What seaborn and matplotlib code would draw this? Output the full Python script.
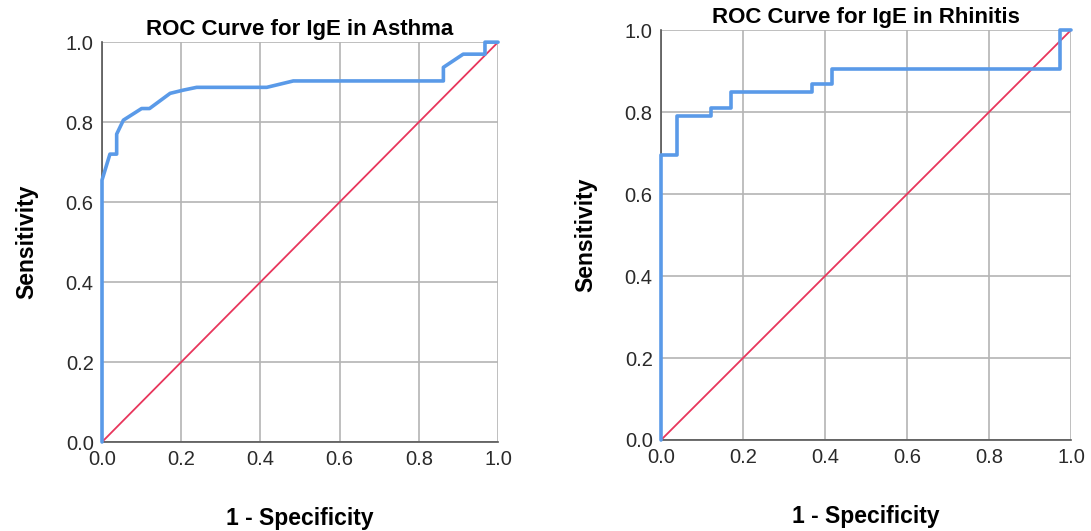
import pandas as pd
import matplotlib
matplotlib.use("Agg")
import matplotlib.pyplot as plt
import seaborn as sns

# ROC points (1 - specificity, sensitivity)
asthma_fpr = [0.0, 0.0, 0.02, 0.037, 0.037, 0.054, 0.10, 0.12, 0.172, 0.205, 0.239,
              0.416, 0.483, 0.862, 0.862, 0.912, 0.967, 0.967, 1.0]
asthma_tpr = [0.0, 0.655, 0.72, 0.72, 0.77, 0.805, 0.834, 0.834, 0.872, 0.88, 0.887,
              0.887, 0.903, 0.903, 0.937, 0.97, 0.97, 1.0, 1.0]

rhinitis_fpr = [0.0, 0.0, 0.038, 0.038, 0.121, 0.121, 0.17, 0.17, 0.367, 0.367,
                0.416, 0.416, 0.973, 0.973, 1.0]
rhinitis_tpr = [0.0, 0.695, 0.695, 0.791, 0.791, 0.809, 0.809, 0.85, 0.85, 0.868,
                0.868, 0.906, 0.906, 1.0, 1.0]

ref_line = [0.0, 1.0]
ticks = [0.0, 0.2, 0.4, 0.6, 0.8, 1.0]
tick_labels = ["0.0", "0.2", "0.4", "0.6", "0.8", "1.0"]

titles = ["ROC Curve for IgE in Asthma", "ROC Curve for IgE in Rhinitis"]

sns.set_theme(style="whitegrid")
plt.rcParams["font.family"] = ["Liberation Sans", "DejaVu Sans"]

BLUE = "#5a9ae8"
RED = "#e8365c"

fig = plt.figure(figsize=(10.91, 5.31), dpi=100)
ax1 = fig.add_axes([0.0935, 0.1676, 0.363, 0.753])
ax2 = fig.add_axes([0.6059, 0.1714, 0.3758, 0.772])

panels = [(ax1, asthma_fpr, asthma_tpr, titles[0]),
          (ax2, rhinitis_fpr, rhinitis_tpr, titles[1])]

for ax, fpr, tpr, title in panels:
    df = pd.DataFrame({"fpr": fpr, "tpr": tpr})
    ref = pd.DataFrame({"fpr": ref_line, "tpr": ref_line})
    sns.lineplot(data=ref, x="fpr", y="tpr", color=RED, linewidth=1.3,
                 sort=False, estimator=None, ax=ax, zorder=3)
    # estimator=None keeps the vertical steps (repeated x values)
    sns.lineplot(data=df, x="fpr", y="tpr", color=BLUE, linewidth=2.6,
                 sort=False, estimator=None, ax=ax, zorder=4, clip_on=False)

    ax.set_xlim(0, 1)
    ax.set_ylim(0, 1)
    ax.set_xticks(ticks)
    ax.set_yticks(ticks)
    ax.set_xticklabels(tick_labels)
    ax.set_yticklabels(tick_labels)
    ax.tick_params(length=0, labelsize=14.5, labelcolor="#2a2a2a")
    ax.tick_params(axis="x", pad=6)
    ax.tick_params(axis="y", pad=6)
    ax.grid(True, color="#b4b4b4", linewidth=1.2)
    ax.set_facecolor("white")
    for side in ["top", "right"]:
        ax.spines[side].set_visible(False)
    for side in ["left", "bottom"]:
        ax.spines[side].set_color("#555555")
        ax.spines[side].set_linewidth(1.2)

    ax.set_title(title, fontsize=16, fontweight="bold", pad=5, color="black")
    ax.set_xlabel("1 - Specificity", fontsize=16.5, fontweight="bold",
                  labelpad=27, color="black")
    ax.set_ylabel("Sensitivity", fontsize=16.5, fontweight="bold",
                  labelpad=20, color="black")

fig.savefig("out.png", dpi=100, facecolor="white")
